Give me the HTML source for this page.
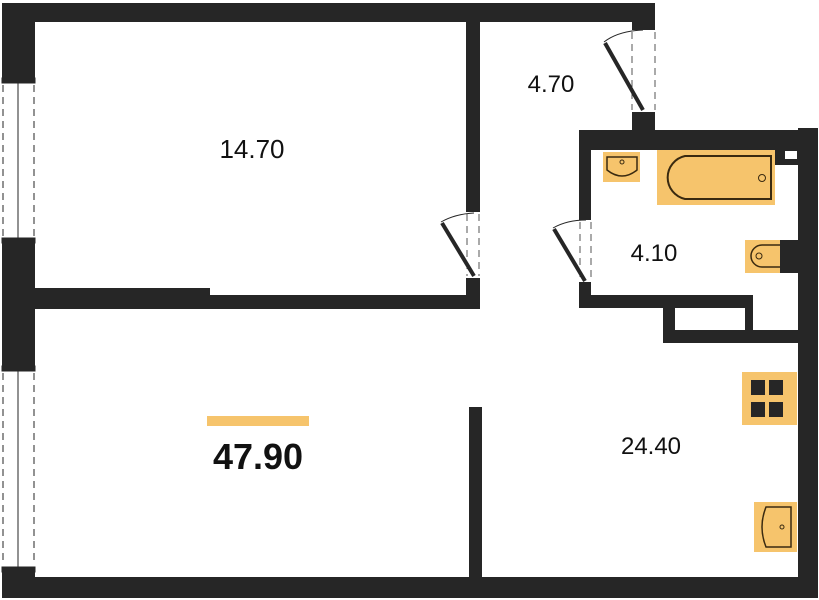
<!DOCTYPE html>
<html><head><meta charset="utf-8"><style>
html,body{margin:0;padding:0;background:#fff;}
svg{display:block}
text{font-family:"Liberation Sans",sans-serif;fill:#111}
</style></head><body>
<svg width="819" height="600" viewBox="0 0 819 600" xmlns="http://www.w3.org/2000/svg">
<g fill="#262626">
<!-- top wall -->
<rect x="2" y="3" width="653" height="19"/>
<!-- left wall -->
<rect x="2" y="3" width="33" height="77"/>
<rect x="2" y="242" width="33" height="126"/>
<rect x="2" y="570" width="33" height="28"/>
<!-- bottom wall -->
<rect x="2" y="577" width="816" height="21"/>
<!-- right wall -->
<rect x="798" y="128" width="20" height="470"/>
<!-- bedroom bottom wall -->
<rect x="35" y="288" width="175" height="21"/>
<rect x="210" y="295" width="270" height="14"/>
<!-- bedroom right wall -->
<rect x="466" y="22" width="14" height="190"/>
<rect x="466" y="278" width="14" height="31"/>
<!-- entry door jambs -->
<rect x="632" y="3" width="23" height="27"/>
<rect x="632" y="112" width="23" height="20"/>
<!-- bathroom -->
<rect x="579" y="130" width="239" height="20"/>
<rect x="579" y="130" width="12" height="90"/>
<rect x="579" y="282" width="12" height="26"/>
<rect x="579" y="295" width="174" height="13"/>
<rect x="663" y="295" width="12" height="48"/>
<rect x="745" y="295" width="8" height="35"/>
<rect x="663" y="330" width="155" height="13"/>
<rect x="775" y="148" width="23" height="17"/>
<!-- living partition -->
<rect x="469" y="407" width="13" height="170"/>
</g>
<rect x="785" y="151" width="12" height="8" fill="#fff"/>
<!-- windows -->
<g stroke="#262626" fill="none">
<rect x="2" y="78" width="33" height="5" fill="#262626"/>
<rect x="2" y="238" width="33" height="5" fill="#262626"/>
<line x1="18" y1="83" x2="18" y2="238" stroke-width="1"/>
<line x1="3" y1="85" x2="3" y2="236" stroke-dasharray="7,5" stroke-width="1"/>
<line x1="34" y1="85" x2="34" y2="236" stroke-dasharray="7,5" stroke-width="1"/>
<rect x="2" y="366" width="33" height="5" fill="#262626"/>
<rect x="2" y="567" width="33" height="5" fill="#262626"/>
<line x1="18" y1="371" x2="18" y2="567" stroke-width="1"/>
<line x1="3" y1="373" x2="3" y2="565" stroke-dasharray="7,5" stroke-width="1"/>
<line x1="34" y1="373" x2="34" y2="565" stroke-dasharray="7,5" stroke-width="1"/>
<!-- doors -->
<line x1="467" y1="214" x2="467" y2="276" stroke-dasharray="7,5" stroke-width="1" stroke="#555"/>
<line x1="479" y1="214" x2="479" y2="276" stroke-dasharray="7,5" stroke-width="1" stroke="#555"/>
<line x1="474" y1="276" x2="442" y2="223" stroke-width="4"/>
<path d="M441 222 Q455 214 474 213" stroke-width="1"/>
<line x1="580" y1="222" x2="580" y2="280" stroke-dasharray="7,5" stroke-width="1" stroke="#555"/>
<line x1="591" y1="222" x2="591" y2="280" stroke-dasharray="7,5" stroke-width="1" stroke="#555"/>
<line x1="585" y1="281" x2="554" y2="229" stroke-width="4"/>
<path d="M553 228 Q567 220 586 220" stroke-width="1"/>
<line x1="632" y1="32" x2="632" y2="110" stroke-dasharray="7,5" stroke-width="1" stroke="#555"/>
<line x1="655" y1="32" x2="655" y2="110" stroke-dasharray="7,5" stroke-width="1" stroke="#555"/>
<line x1="643" y1="110" x2="605" y2="43" stroke-width="4"/>
<path d="M604 42 Q618 31 643 30" stroke-width="1"/>
</g>
<!-- fixtures -->
<g stroke="#3a2a10" stroke-width="2" fill="#f6c46c">
<rect x="657" y="150" width="118" height="55" stroke="none"/>
<path d="M685 156 H771 V199 H685 A22 22 0 0 1 685 156 Z" fill="none"/>
<circle cx="762" cy="178" r="3.5" fill="none" stroke-width="1"/>
<rect x="603" y="152" width="37" height="30" stroke="none"/>
<path d="M607 157 H637 V170 Q622 182 607 170 Z" fill="none" stroke-width="1.5"/>
<circle cx="622" cy="162" r="2" fill="none" stroke-width="1"/>
<rect x="745" y="240" width="35" height="33" stroke="none"/>
<rect x="780" y="240" width="18" height="33" fill="#262626" stroke="none"/>
<path d="M780 245 H762 A11 11 0 0 0 762 267 H780" fill="none" stroke-width="1.5"/>
<circle cx="759" cy="256" r="3" fill="none" stroke-width="1"/>
<rect x="742" y="372" width="55" height="53" stroke="none"/>
<rect x="798" y="372" width="0" height="0"/>
<rect x="751" y="380" width="14" height="15" fill="#262626" stroke="none"/>
<rect x="769" y="380" width="14" height="15" fill="#262626" stroke="none"/>
<rect x="751" y="402" width="14" height="15" fill="#262626" stroke="none"/>
<rect x="769" y="402" width="14" height="15" fill="#262626" stroke="none"/>
<rect x="754" y="502" width="43" height="50" stroke="none"/>
<path d="M791 507 H766 Q758 527 766 547 H791 Z" fill="none" stroke-width="1.5"/>
<circle cx="782" cy="527" r="2" fill="none" stroke-width="1"/>
</g>
<rect x="207" y="416" width="102" height="10" fill="#f6c46c"/>
<text x="252" y="158" font-size="26" text-anchor="middle">14.70</text>
<text x="551" y="92" font-size="24" text-anchor="middle">4.70</text>
<text x="654" y="261" font-size="24" text-anchor="middle">4.10</text>
<text x="651" y="454" font-size="24" text-anchor="middle">24.40</text>
<text x="258" y="469" font-size="36" font-weight="bold" text-anchor="middle">47.90</text>
</svg>
</body></html>
